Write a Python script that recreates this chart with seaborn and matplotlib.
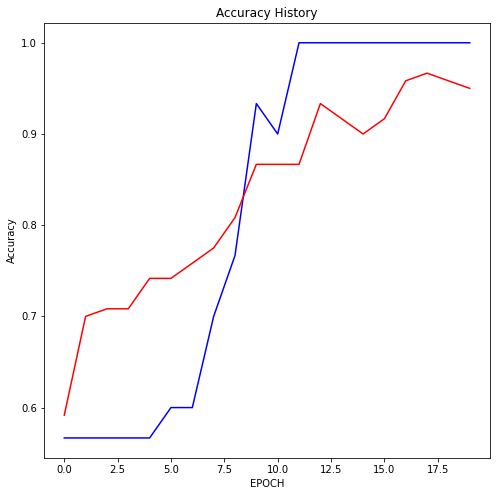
import numpy as np
import pandas as pd
import matplotlib
matplotlib.use("Agg")
import matplotlib.pyplot as plt
import seaborn as sns

epochs = list(range(20))
train_acc = [0.5667, 0.5667, 0.5667, 0.5667, 0.5667, 0.6, 0.6, 0.7, 0.7667, 0.9333,
             0.9, 1.0, 1.0, 1.0, 1.0, 1.0, 1.0, 1.0, 1.0, 1.0]
val_acc = [0.5917, 0.7, 0.7083, 0.7083, 0.7417, 0.7417, 0.7583, 0.775, 0.8083, 0.8667,
           0.8667, 0.8667, 0.9333, 0.9167, 0.9, 0.9167, 0.9583, 0.9667, 0.9583, 0.95]

fig = plt.figure(figsize=(497/72, 496/72), dpi=72)
ax = fig.add_axes([0.0885, 0.0772, 0.8975, 0.8764])

sns.lineplot(x=epochs, y=train_acc, color="blue", ax=ax, linewidth=1.5)
sns.lineplot(x=epochs, y=val_acc, color="red", ax=ax, linewidth=1.5)

ax.set_title("Accuracy History", fontsize=12)
ax.set_xlabel("EPOCH")
ax.set_ylabel("Accuracy")

fig.savefig("out.png", dpi=72)
